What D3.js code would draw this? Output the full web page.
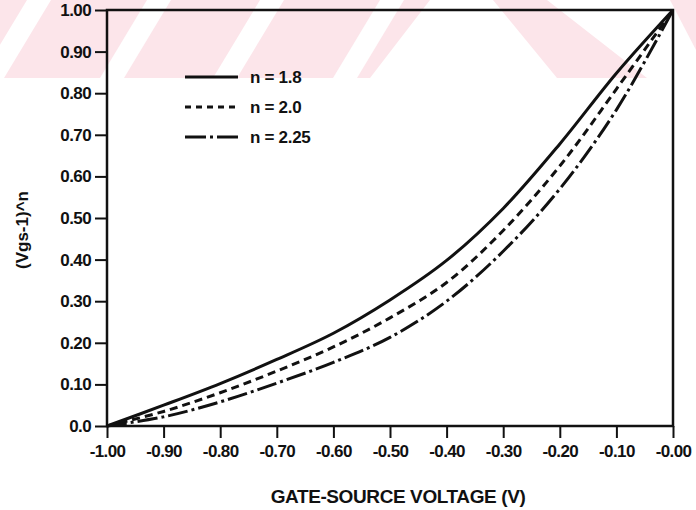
<!DOCTYPE html>
<html>
<head>
<meta charset="utf-8">
<script src="https://cdn.jsdelivr.net/npm/d3@7"></script>
<style>
  body { margin: 0; background: #fff; }
  svg { display: block; }
  text { font-family: "Liberation Sans", Arial, sans-serif; font-weight: bold; fill: #111; }
</style>
</head>
<body>
<div id="graph"></div>
<script>
// values
const voltage = [-1.0, -0.9, -0.8, -0.7, -0.6, -0.5, -0.4, -0.3, -0.2, -0.1, 0.0];
const n18  = [0, 0.050, 0.102, 0.160, 0.223, 0.303, 0.398, 0.523, 0.678, 0.848, 1.0];
const n20  = [0, 0.035, 0.080, 0.132, 0.190, 0.260, 0.345, 0.470, 0.625, 0.810, 1.0];
const n225 = [0, 0.022, 0.058, 0.103, 0.153, 0.213, 0.300, 0.420, 0.570, 0.760, 1.0];
const seriesNames = ['n = 1.8', 'n = 2.0', 'n = 2.25'];
const xTicks = [-1.0, -0.9, -0.8, -0.7, -0.6, -0.5, -0.4, -0.3, -0.2, -0.1, 0.0];
const xTickLabels = ['-1.00', '-0.90', '-0.80', '-0.70', '-0.60', '-0.50', '-0.40', '-0.30', '-0.20', '-0.10', '-0.00'];
const yTicks = [0, 0.1, 0.2, 0.3, 0.4, 0.5, 0.6, 0.7, 0.8, 0.9, 1.0];
const yTickLabels = ['0.0', '0.10', '0.20', '0.30', '0.40', '0.50', '0.60', '0.70', '0.80', '0.90', '1.00'];

const w = 696;
const h = 510;
const padLeft = 107, padRight = 673, padTop = 10, padBottom = 426;
const pink = '#fce5ea';

const svg = d3.select('#graph')
  .append('svg')
  .attr('width', w)
  .attr('height', h);

// faint watermark band along the top
const mark = svg.append('g');
mark.append('polygon')
  .attr('points', '0,0 430,0 370,78 0,78')
  .attr('fill', pink);
[-20, 100, 213, 333].forEach(x0 => {
  mark.append('polygon')
    .attr('points', [[x0, 78], [x0 + 24, 78], [x0 + 71, 0], [x0 + 47, 0]].join(' '))
    .attr('fill', '#fff');
});
mark.append('polygon')
  .attr('points', '493,0 547,0 647,78 557,78')
  .attr('fill', pink);
mark.append('polygon')
  .attr('points', '670,0 696,0 696,50')
  .attr('fill', pink);

const xScale = d3.scaleLinear()
  .domain([-1, 0])
  .range([padLeft, padRight]);
const yScale = d3.scaleLinear()
  .domain([0, 1])
  .range([padBottom, padTop]);

// frame
svg.append('rect')
  .attr('x', padLeft)
  .attr('y', padTop)
  .attr('width', padRight - padLeft)
  .attr('height', padBottom - padTop)
  .attr('fill', 'none')
  .attr('stroke', '#111')
  .attr('stroke-width', 2.5);

const xAxis = d3.axisBottom(xScale)
  .tickValues(xTicks)
  .tickSize(12)
  .tickPadding(7)
  .tickFormat((d, i) => xTickLabels[i]);
const yAxis = d3.axisLeft(yScale)
  .tickValues(yTicks)
  .tickSize(12)
  .tickPadding(4)
  .tickFormat((d, i) => yTickLabels[i]);

const gx = svg.append('g')
  .attr('transform', 'translate(0,' + padBottom + ')')
  .call(xAxis);
const gy = svg.append('g')
  .attr('transform', 'translate(' + padLeft + ',0)')
  .call(yAxis);

[gx, gy].forEach(g => {
  g.select('.domain').remove();
  g.selectAll('.tick line').attr('stroke', '#111').attr('stroke-width', 2);
  g.selectAll('.tick text')
    .attr('font-size', 17)
    .attr('font-family', '"Liberation Sans", Arial, sans-serif')
    .attr('font-weight', 'bold')
    .attr('fill', '#111')
    .attr('letter-spacing', -0.6);
});

// curves
const styles = [
  { data: n18,  dash: null },
  { data: n20,  dash: '8,5' },
  { data: n225, dash: '20,4,3,4' }
];
const line = d3.line()
  .x((d, i) => xScale(voltage[i]))
  .y(d => yScale(d))
  .curve(d3.curveCatmullRom);

styles.forEach(s => {
  svg.append('path')
    .attr('d', line(s.data))
    .attr('fill', 'none')
    .attr('stroke', '#111')
    .attr('stroke-width', 3)
    .attr('stroke-dasharray', s.dash);
});

// legend
const legend = svg.append('g');
styles.forEach((s, i) => {
  const y = 77 + i * 30;
  legend.append('line')
    .attr('x1', 185).attr('x2', 238)
    .attr('y1', y).attr('y2', y)
    .attr('stroke', '#111')
    .attr('stroke-width', 3)
    .attr('stroke-dasharray', i === 1 ? '6,5' : (i === 2 ? '21,4,3,4' : null));
  legend.append('text')
    .text(seriesNames[i])
    .attr('x', 250)
    .attr('y', y + 6)
    .attr('font-size', 17)
    .attr('letter-spacing', -0.3);
});

// axis titles
svg.append('text')
  .text('GATE-SOURCE VOLTAGE (V)')
  .attr('x', 398)
  .attr('y', 503)
  .attr('text-anchor', 'middle')
  .attr('font-size', 19)
  .attr('letter-spacing', -0.4);

svg.append('text')
  .text('(Vgs-1)^n')
  .attr('transform', 'translate(28,230) rotate(-90)')
  .attr('text-anchor', 'middle')
  .attr('font-size', 17);
</script>
</body>
</html>
